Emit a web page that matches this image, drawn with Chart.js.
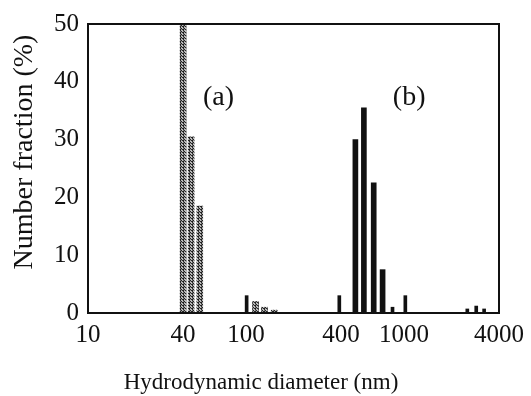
<!DOCTYPE html>
<html>
<head>
<meta charset="utf-8">
<script src="https://cdn.jsdelivr.net/npm/chart.js@4/dist/chart.umd.min.js"></script>
<style>
  html, body { margin: 0; padding: 0; background: #ffffff; }
  #wrap { width: 531px; height: 396px; }
</style>
</head>
<body>
<div id="wrap"><canvas id="c" width="531" height="396"></canvas></div>
<script>
// ---- data ----
const xTickValues = [10, 40, 100, 400, 1000, 4000];
const yTickValues = [0, 10, 20, 30, 40, 50];

// (a) hatched distribution
const aDiameters = [40, 45, 51, 115, 131, 151];
const aFractions = [50, 30.5, 18.5, 2, 1, 0.5];

// (b) black distribution: main peak
const bDiameters = [493, 558, 644, 733];
const bFractions = [30, 35.5, 22.5, 7.5];

// (b) black distribution: small bars
const bSmallDiameters = [39.5, 101, 390, 847, 1021, 2520, 2870, 3220];
const bSmallFractions = [3, 3, 3, 1, 3, 0.7, 1.2, 0.7];

// panel labels (data coordinates)
const panelLabels = ['(a)', '(b)'];
const panelLabelX = [67, 1080];
const panelLabelY = [37.3, 37.3];

const xTitle = 'Hydrodynamic diameter (nm)';
const yTitle = 'Number fraction (%)';

const FONT = '"Liberation Serif", "DejaVu Serif", serif';

function toPoints(xs, ys) { return xs.map((x, i) => ({ x: x, y: ys[i] })); }

function makeHatch() {
  const s = 3;
  const c = document.createElement('canvas');
  c.width = s; c.height = s;
  const g = c.getContext('2d');
  g.fillStyle = '#ffffff';
  g.fillRect(0, 0, s, s);
  g.strokeStyle = '#1a1a1a';
  g.lineWidth = 1.1;
  g.beginPath();
  g.moveTo(-1, -1); g.lineTo(s + 1, s + 1);
  g.moveTo(-1, s - 2); g.lineTo(1, s);
  g.moveTo(s - 2, -2); g.lineTo(s + 2, 2);
  g.stroke();
  return g.createPattern(c, 'repeat');
}

const framePlugin = {
  id: 'frame',
  afterDraw(chart) {
    const a = chart.chartArea, ctx = chart.ctx;
    ctx.save();
    ctx.strokeStyle = '#111111';
    ctx.lineWidth = 2;
    ctx.strokeRect(a.left, a.top, a.right - a.left, a.bottom - a.top);
    ctx.restore();
  }
};

const textPlugin = {
  id: 'texts',
  afterDraw(chart) {
    const ctx = chart.ctx, xs = chart.scales.x, ys = chart.scales.y;
    ctx.save();
    ctx.fillStyle = '#111111';
    ctx.font = '28px ' + FONT;
    ctx.textAlign = 'center';
    ctx.textBaseline = 'middle';
    panelLabels.forEach((t, i) => {
      ctx.fillText(t, xs.getPixelForValue(panelLabelX[i]), ys.getPixelForValue(panelLabelY[i]));
    });
    // x axis title
    ctx.font = '23px ' + FONT;
    ctx.textBaseline = 'alphabetic';
    ctx.fillText(xTitle, 261, 389);
    // y axis title
    ctx.font = '28px ' + FONT;
    ctx.translate(32, 152);
    ctx.rotate(-Math.PI / 2);
    ctx.fillText(yTitle, 0, 0);
    ctx.restore();
  }
};

const hatch = makeHatch();

new Chart(document.getElementById('c'), {
  type: 'bar',
  data: {
    datasets: [
      { label: '(a)', data: toPoints(aDiameters, aFractions), backgroundColor: hatch, barThickness: 6, grouped: false },
      { label: '(b)', data: toPoints(bDiameters, bFractions), backgroundColor: '#111111', barThickness: 5, grouped: false },
      { label: '(b) small', data: toPoints(bSmallDiameters, bSmallFractions), backgroundColor: '#111111', barThickness: 3, grouped: false }
    ]
  },
  options: {
    responsive: false,
    animation: false,
    devicePixelRatio: 1,
    layout: { padding: { top: 22, right: 26, left: 0, bottom: 0 } },
    plugins: { legend: { display: false }, tooltip: { enabled: false } },
    scales: {
      x: {
        type: 'logarithmic',
        min: 10, max: 4000,
        offset: false,
        grid: { display: false, drawTicks: false },
        border: { display: true, color: '#111111', width: 2 },
        afterBuildTicks(scale) { scale.ticks = xTickValues.map(v => ({ value: v })); },
        afterFit(scale) { scale.height = 83; },
        ticks: {
          autoSkip: false, maxRotation: 0,
          color: '#111111', padding: 7,
          font: { family: FONT, size: 25 },
          callback: (v) => String(v)
        },
        title: { display: false }
      },
      y: {
        min: 0, max: 50,
        grid: { display: false, drawTicks: false },
        border: { display: true, color: '#111111', width: 2 },
        afterBuildTicks(scale) { scale.ticks = yTickValues.map(v => ({ value: v })); },
        afterFit(scale) { scale.width = 88; },
        ticks: {
          color: '#111111', padding: 9,
          font: { family: FONT, size: 25 }
        },
        title: { display: false }
      }
    }
  },
  plugins: [framePlugin, textPlugin]
});
</script>
</body>
</html>
